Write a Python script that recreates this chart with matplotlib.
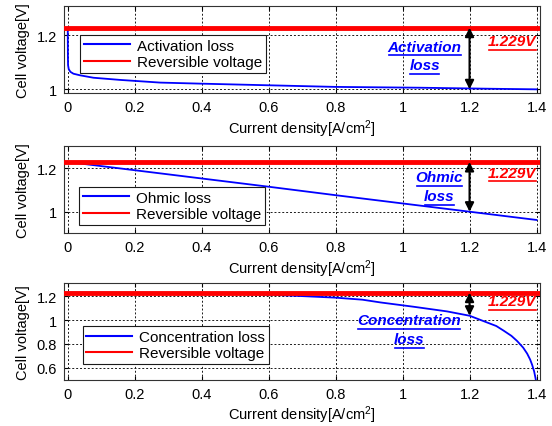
import matplotlib
matplotlib.use('Agg')
import matplotlib.pyplot as plt
from matplotlib.lines import Line2D

plt.rcParams['font.family'] = ['Liberation Sans', 'DejaVu Sans']
plt.rcParams['mathtext.fontset'] = 'custom'
plt.rcParams['mathtext.rm'] = 'Liberation Sans'
plt.rcParams['mathtext.it'] = 'Liberation Sans:italic'
plt.rcParams['mathtext.bf'] = 'Liberation Sans:bold'

# ---------------- data ----------------
reversible_voltage = 1.229
x_ticks = [0, 0.2, 0.4, 0.6, 0.8, 1.0, 1.2, 1.4]
x_tick_labels = ['0', '0.2', '0.4', '0.6', '0.8', '1', '1.2', '1.4']

activation_x = [0, 0.0005, 0.001, 0.003, 0.008, 0.017, 0.037, 0.077, 0.156,
                0.276, 0.4, 0.6, 0.8, 1.05, 1.27, 1.4]
activation_v = [1.229, 1.13, 1.09, 1.075, 1.065, 1.058, 1.052, 1.043, 1.035,
                1.025, 1.021, 1.015, 1.009, 1.006, 1.002, 1.0]

ohmic_x = [0, 0.2, 0.4, 0.6, 0.8, 1.0, 1.2, 1.4]
ohmic_v = [1.229, 1.191, 1.153, 1.115, 1.076, 1.038, 1.0, 0.962]

conc_x = [0, 0.3, 0.5, 0.6, 0.684, 0.8, 0.88, 0.934, 1.033, 1.133, 1.2,
          1.252, 1.28, 1.302, 1.325, 1.342, 1.36, 1.372, 1.381, 1.387, 1.393, 1.397, 1.4]
conc_v = [1.229, 1.225, 1.218, 1.212, 1.202, 1.187, 1.17, 1.147, 1.111, 1.072, 1.036,
          0.98, 0.95, 0.911, 0.868, 0.825, 0.77, 0.72, 0.67, 0.625, 0.57, 0.515, 0.47]

panels = [
    dict(x=activation_x, v=activation_v, label='Activation loss',
         ylim=(0.985, 1.31), yticks=[1, 1.2], yticklabels=['1', '1.2'],
         note=['Activation', 'loss'], note_xy=(1.066, 1.124), note_dy=0.07,
         arrow_end=1.0, v_xy=(1.4, 1.179),
         pos=[0.116, 0.779, 0.862, 0.205], leg=(0.034, 0.668)),
    dict(x=ohmic_x, v=ohmic_v, label='Ohmic loss',
         ylim=(0.9, 1.303), yticks=[1, 1.2], yticklabels=['1', '1.2'],
         note=['Ohmic', 'loss'], note_xy=(1.11, 1.115), note_dy=0.088,
         arrow_end=1.0, v_xy=(1.4, 1.18),
         pos=[0.116, 0.451, 0.862, 0.205], leg=(0.032, 0.533)),
    dict(x=conc_x, v=conc_v, label='Concentration loss',
         ylim=(0.5, 1.308), yticks=[0.6, 0.8, 1, 1.2], yticklabels=['0.6', '0.8', '1', '1.2'],
         note=['Concentration', 'loss'], note_xy=(1.02, 0.92), note_dy=0.16,
         arrow_end=1.036, v_xy=(1.4, 1.155),
         pos=[0.116, 0.108, 0.862, 0.2265], leg=(0.039, 0.556)),
]

fig = plt.figure(figsize=(5.52, 4.27), dpi=100)
underlined = []

for p in panels:
    ax = fig.add_axes(p['pos'])
    ax.plot(p['x'], p['v'], color='#0000ff', lw=1.3, label=p['label'], zorder=3)
    ax.axhline(reversible_voltage, color='#ff0000', lw=3.5, label='Reversible voltage', zorder=4)
    ax.set_xlim(-0.011, 1.41)
    ax.set_ylim(*p['ylim'])
    ax.set_xticks(x_ticks)
    ax.set_xticklabels(x_tick_labels)
    ax.set_yticks(p['yticks'])
    ax.set_yticklabels(p['yticklabels'])
    ax.tick_params(direction='in', length=3, labelsize=10.5, top=True, right=True, pad=5)
    ax.grid(True, color='0.1', linestyle=(0, (2, 2)), lw=0.7)
    for s in ax.spines.values():
        s.set_linewidth(0.8)
        s.set_color('0.2')
    ax.set_xlabel('Current density[A/cm$^2$]', fontsize=10.5, labelpad=2)
    ax.set_ylabel('Cell voltage[V]', fontsize=10.5, labelpad=5)
    leg = ax.legend(loc='upper left', bbox_to_anchor=p['leg'], borderaxespad=0,
                    fontsize=11, fancybox=False, framealpha=1, edgecolor='0.1',
                    handlelength=3.0, handletextpad=0.45, labelspacing=0.15,
                    borderpad=0.25)
    leg.get_frame().set_linewidth(0.8)
    for line in leg.get_lines():
        line.set_linewidth(1.5)
    # arrow
    ax.annotate('', xy=(1.2, p['arrow_end']), xytext=(1.2, reversible_voltage),
                arrowprops=dict(arrowstyle='<|-|>', color='black', lw=1.5,
                                mutation_scale=13, shrinkA=0, shrinkB=0), zorder=5)
    nx, ny = p['note_xy']
    for i, line in enumerate(p['note']):
        t = ax.text(nx, ny + p['note_dy'] / 2 - i * p['note_dy'], line, color='#0000ff',
                    fontsize=11, fontweight='bold', fontstyle='italic',
                    ha='center', va='center', zorder=6)
        underlined.append((t, '#0000ff'))
    t = ax.text(p['v_xy'][0], p['v_xy'][1], '1.229V', color='#ff0000', fontsize=11,
                fontweight='bold', fontstyle='italic', ha='right', va='center', zorder=6)
    underlined.append((t, '#ff0000'))

fig.canvas.draw()
renderer = fig.canvas.get_renderer()
inv = fig.transFigure.inverted()
for t, c in underlined:
    bb = t.get_window_extent(renderer)
    (x0, y0) = inv.transform((bb.x0 + 1, bb.y0 - 1.5))
    (x1, _) = inv.transform((bb.x1 - 1, bb.y0 - 1.5))
    fig.add_artist(Line2D([x0, x1], [y0, y0], color=c, lw=1.2, transform=fig.transFigure))

fig.savefig('out.png', dpi=100)
